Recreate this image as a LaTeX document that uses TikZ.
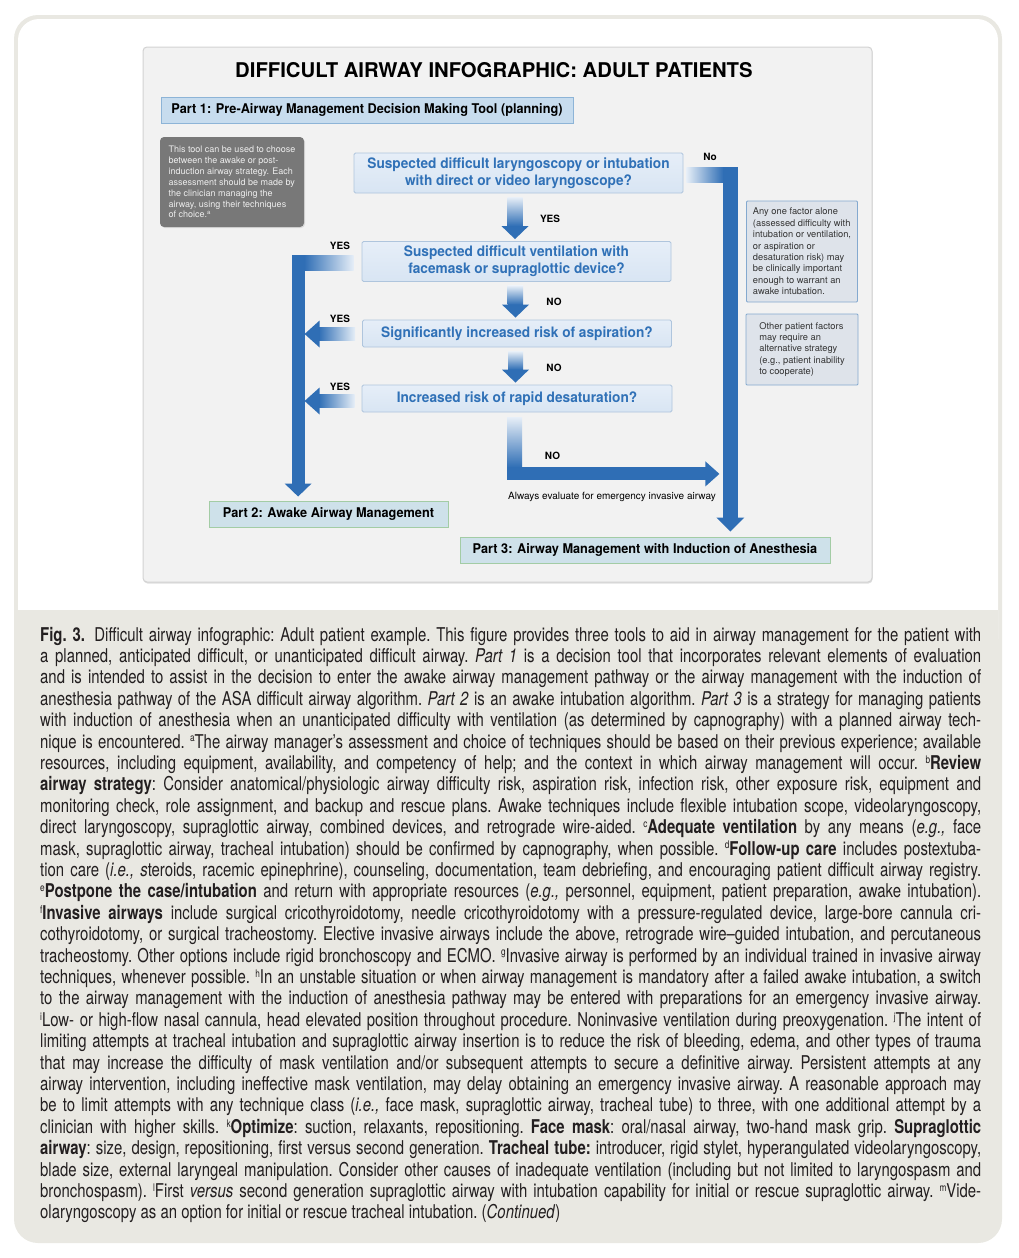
\documentclass[tikz,border=0pt]{standalone}
\usepackage{fontspec}
\usepackage{graphicx}
\setmainfont{TeX Gyre Heros}
\newfontfamily\boxf{TeX Gyre Heros}[FakeStretch=0.95]
\newfontfamily\capf{TeX Gyre Heros}[FakeStretch=0.785]
\usetikzlibrary{calc,shadows}

\definecolor{capbg}{HTML}{E9E8E2}
\definecolor{panelbg}{HTML}{F2F2F2}
\definecolor{panelln}{HTML}{D2D2D2}
\definecolor{ablue}{HTML}{2F6EB5}
\definecolor{alight}{HTML}{E6EEF7}
\definecolor{qfill}{HTML}{D8E5F3}
\definecolor{qfilltop}{HTML}{E6EEF8}
\definecolor{qline}{HTML}{AFC5DD}
\definecolor{qtext}{HTML}{3071B7}
\definecolor{p1fill}{HTML}{C7DCEE}
\definecolor{p1line}{HTML}{8DB4D7}
\definecolor{pfill}{HTML}{CEE1EA}
\definecolor{pline}{HTML}{A3CCA5}
\definecolor{notefill}{HTML}{787878}
\definecolor{infofill}{HTML}{DEE3EA}
\definecolor{infoline}{HTML}{84A9CF}
\definecolor{captext}{HTML}{231F20}

\newlength\capw \setlength\capw{941pt}
\newsavebox\capbox
\newcommand\sups[1]{\raisebox{0.62ex}{\fontsize{10.5}{10.5}\selectfont #1}}
\newcommand\capline[1]{\noindent\sbox\capbox{#1}%
  \ifdim\wd\capbox>\capw\resizebox{\capw}{\height}{\usebox\capbox}%
  \else\makebox[\capw][s]{#1}\fi\par}
\newcommand\caplast[1]{\noindent\makebox[\capw][l]{#1}\par}

\newcommand\dnarrow[2]{%
  \shade[top color=alight, bottom color=ablue] ($(#1)+(-7.5,0)$) rectangle ($(#2)+(7.5,-13)$);
  \fill[ablue] ($(#2)+(-13.5,-13)$) -- (#2) -- ($(#2)+(13.5,-13)$) -- cycle;}
\newcommand\lfarrow[2]{%
  \shade[left color=ablue, right color=alight] ($(#2)+(14,-6.5)$) rectangle ($(#1)+(0,6.5)$);
  \fill[ablue] (#2) -- ($(#2)+(15,-13.5)$) -- ($(#2)+(15,13.5)$) -- cycle;}

\begin{document}
\begin{tikzpicture}[x=1pt, y=-1pt,
  qbox/.style={draw=qline, line width=0.8pt, top color=qfilltop, bottom color=qfill,
    rounded corners=1.5pt, inner sep=0pt, align=center,
    font=\boxf\bfseries\fontsize{14.4}{17}\selectfont, text=qtext},
  partbox/.style={draw=pline, line width=1pt, fill=pfill, inner sep=0pt,
    font=\boxf\bfseries\fontsize{13.4}{16}\selectfont, text=black},
  infobox/.style={draw=infoline, line width=0.9pt, fill=infofill, rounded corners=1pt,
    inner sep=0pt, align=left, font=\fontsize{9.3}{11.4}\selectfont, text=black!80},
  notebox/.style={fill=notefill, rounded corners=4pt, inner sep=0pt, align=left,
    text=white!93!black, font=\fontsize{9}{10.9}\selectfont,
    drop shadow={opacity=0.2, shadow xshift=1pt, shadow yshift=-1pt}},
  lbl/.style={font=\bfseries\fontsize{10}{12}\selectfont, inner sep=0pt}]

\useasboundingbox (0,0) rectangle (1018,1258);
\fill[white] (0,0) rectangle (1018,1258);

% outer frame and caption band
\fill[capbg, rounded corners=24pt] (14,15) rectangle (1002,1243);
\fill[white, rounded corners=21pt] (18,19) rectangle (998,660);
\fill[capbg] (18,610) rectangle (998,662);

% infographic panel
\path[fill=panelbg, draw=panelln, line width=1pt, rounded corners=4pt,
  drop shadow={opacity=0.25, shadow xshift=0.5pt, shadow yshift=-1.5pt}] (143,47) rectangle (872,582);

\node[font=\bfseries\fontsize{20.3}{23}\selectfont, inner sep=0pt] (title) at (494,70)
  {DIFFICULT AIRWAY INFOGRAPHIC: ADULT PATIENTS};

\node[partbox, draw=p1line, fill=p1fill, minimum width=412pt, minimum height=26pt] (part1) at (367,110)
  {Part 1: Pre-Airway Management Decision Making Tool (planning)};

\node[notebox, minimum width=144pt, minimum height=90pt] (note) at (232,182)
  {This tool can be used to choose\\between the awake or post-\\induction airway strategy. Each\\assessment should be made by\\the clinician managing the\\airway, using their techniques\\of choice.\textsuperscript{a}};

\node[qbox, minimum width=329pt, minimum height=40pt] (q1) at (518.5,173)
  {Suspected difficult laryngoscopy or intubation\\with direct or video laryngoscope?};
\node[qbox, minimum width=309pt, minimum height=40pt] (q2) at (516.5,261.5)
  {Suspected difficult ventilation with\\facemask or supraglottic device?};
\node[qbox, minimum width=309pt, minimum height=27pt] (q3) at (517,333.5)
  {Significantly increased risk of aspiration?};
\node[qbox, minimum width=310pt, minimum height=27pt] (q4) at (517,398.5)
  {Increased risk of rapid desaturation?};

\node[infobox, minimum width=111pt, minimum height=101pt] (info1) at (802,251.5)
  {Any one factor alone\\(assessed difficulty with\\intubation or ventilation,\\or aspiration or\\desaturation risk) may\\be clinically important\\enough to warrant an\\awake intubation.};
\node[infobox, minimum width=112pt, minimum height=71pt] (info2) at (802,349.5)
  {Other patient factors\\may require an\\alternative strategy\\(e.g., patient inability\\to cooperate)};

\node[partbox, minimum width=239pt, minimum height=26pt] (part2) at (328.5,514)
  {Part 2: Awake Airway Management};
\node[partbox, minimum width=370pt, minimum height=26pt] (part3) at (645,550)
  {Part 3: Airway Management with Induction of Anesthesia};

% down arrows between questions
\coordinate (d1s) at ($(q1.south -| q2.north)+(-1.5,4)$);
\coordinate (d1t) at ($(q2.north)+(-1.5,-2)$);
\dnarrow{d1s}{d1t}
\coordinate (d2s) at ($(q2.south)+(-1.5,4)$);
\coordinate (d2t) at ($(q3.north)+(-1.5,-2)$);
\dnarrow{d2s}{d2t}
\coordinate (d3s) at ($(q3.south)+(-1.5,4)$);
\coordinate (d3t) at ($(q4.north)+(-1.5,-2)$);
\dnarrow{d3s}{d3t}

% left (YES) path to Part 2
\coordinate (lc) at ($(q2.west)+(-63.5,1)$);
\coordinate (lt) at ($(lc |- part2.north)+(0,-4)$);
\shade[left color=ablue, right color=alight] ($(lc)+(6,-7.5)$) rectangle ($(lc -| q2.west)+(-8,7.5)$);
\fill[ablue] ($(lc)+(-6.5,-7.5)$) rectangle ($(lt)+(6.5,-13)$);
\fill[ablue] (lt) -- ($(lt)+(-13.5,-13)$) -- ($(lt)+(13.5,-13)$) -- cycle;

\coordinate (y3s) at ($(q3.west)+(-7,0.5)$);
\coordinate (y3t) at ($(q3.west -| lc)+(6.5,0.5)$);
\lfarrow{y3s}{y3t}
\coordinate (y4s) at ($(q4.west)+(-7,2.5)$);
\coordinate (y4t) at ($(q4.west -| lc)+(6.5,2.5)$);
\lfarrow{y4s}{y4t}

% right (No) path to Part 3
\coordinate (rc) at ($(q1.east)+(47,1.5)$);
\coordinate (rt) at ($(rc |- part3.north)+(0,-5)$);
\shade[left color=alight, right color=ablue] ($(q1.east)+(3,-6)$) rectangle ($(rc)+(-7,7.5)$);
\fill[ablue] ($(rc)+(-7.5,-7.5)$) rectangle ($(rt)+(7.5,-14)$);
\fill[ablue] (rt) -- ($(rt)+(-14,-14)$) -- ($(rt)+(14,-14)$) -- cycle;

% NO path from last question
\coordinate (nc) at ($(q4.south)+(-2.5,61.5)$);
\coordinate (nt) at ($(nc -| rc)+(-11,0)$);
\shade[top color=alight, bottom color=ablue] ($(q4.south)+(-10,5)$) rectangle ($(nc)+(7.5,-6.5)$);
\fill[ablue] ($(nc)+(-7.5,-6.5)$) rectangle ($(nt)+(-13,6.5)$);
\fill[ablue] (nt) -- ($(nt)+(-14,-12.5)$) -- ($(nt)+(-14,12.5)$) -- cycle;

% labels
\node[lbl] (yes1) at (550,219) {YES};
\node[lbl] (no2) at (554,302) {NO};
\node[lbl] (no3) at (554,368) {NO};
\node[lbl] (yes2) at (340,246) {YES};
\node[lbl] (yes3) at (340,318.5) {YES};
\node[lbl] (yes4) at (340,387) {YES};
\node[lbl] (nolbl) at (710,157) {No};
\node[lbl] (no4) at (552.5,456) {NO};
\node[font=\fontsize{10}{12}\selectfont, inner sep=0pt] (always) at (612,497)
  {Always evaluate for emergency invasive airway};

% caption
\node[anchor=base west, inner sep=0pt, text=captext] (caption) at (40,641) {\parbox[t]{\capw}{%
\capf\fontsize{19}{21.4}\selectfont\frenchspacing\setlength\lineskiplimit{-30pt}%
\capline{\textbf{Fig. 3.}\enspace Difficult airway infographic: Adult patient example. This figure provides three tools to aid in airway management for the patient with}
\capline{a planned, anticipated difficult, or unanticipated difficult airway. \textit{Part 1} is a decision tool that incorporates relevant elements of evaluation}
\capline{and is intended to assist in the decision to enter the awake airway management pathway or the airway management with the induction of}
\capline{anesthesia pathway of the ASA difficult airway algorithm. \textit{Part 2} is an awake intubation algorithm. \textit{Part 3} is a strategy for managing patients}
\capline{with induction of anesthesia when an unanticipated difficulty with ventilation (as determined by capnography) with a planned airway tech-}
\capline{nique is encountered. \sups{a}The airway manager’s assessment and choice of techniques should be based on their previous experience; available}
\capline{resources, including equipment, availability, and competency of help; and the context in which airway management will occur. \sups{b}\textbf{Review}}
\capline{\textbf{airway strategy}: Consider anatomical/physiologic airway difficulty risk, aspiration risk, infection risk, other exposure risk, equipment and}
\capline{monitoring check, role assignment, and backup and rescue plans. Awake techniques include flexible intubation scope, videolaryngoscopy,}
\capline{direct laryngoscopy, supraglottic airway, combined devices, and retrograde wire-aided. \sups{c}\textbf{Adequate ventilation} by any means (\textit{e.g.,} face}
\capline{mask, supraglottic airway, tracheal intubation) should be confirmed by capnography, when possible. \sups{d}\textbf{Follow-up care} includes postextuba-}
\capline{tion care (\textit{i.e., s}teroids, racemic epinephrine), counseling, documentation, team debriefing, and encouraging patient difficult airway registry.}
\capline{\sups{e}\textbf{Postpone the case/intubation} and return with appropriate resources (\textit{e.g.,} personnel, equipment, patient preparation, awake intubation).}
\capline{\sups{f}\textbf{Invasive airways} include surgical cricothyroidotomy, needle cricothyroidotomy with a pressure-regulated device, large-bore cannula cri-}
\capline{cothyroidotomy, or surgical tracheostomy. Elective invasive airways include the above, retrograde wire–guided intubation, and percutaneous}
\capline{tracheostomy. Other options include rigid bronchoscopy and ECMO. \sups{g}Invasive airway is performed by an individual trained in invasive airway}
\capline{techniques, whenever possible. \sups{h}In an unstable situation or when airway management is mandatory after a failed awake intubation, a switch}
\capline{to the airway management with the induction of anesthesia pathway may be entered with preparations for an emergency invasive airway.}
\capline{\sups{i}Low- or high-flow nasal cannula, head elevated position throughout procedure. Noninvasive ventilation during preoxygenation. \sups{j}The intent of}
\capline{limiting attempts at tracheal intubation and supraglottic airway insertion is to reduce the risk of bleeding, edema, and other types of trauma}
\capline{that may increase the difficulty of mask ventilation and/or subsequent attempts to secure a definitive airway. Persistent attempts at any}
\capline{airway intervention, including ineffective mask ventilation, may delay obtaining an emergency invasive airway. A reasonable approach may}
\capline{be to limit attempts with any technique class (\textit{i.e.,} face mask, supraglottic airway, tracheal tube) to three, with one additional attempt by a}
\capline{clinician with higher skills. \sups{k}\textbf{Optimize}: suction, relaxants, repositioning. \textbf{Face mask}: oral/nasal airway, two-hand mask grip. \textbf{Supraglottic}}
\capline{\textbf{airway}: size, design, repositioning, first versus second generation. \textbf{Tracheal tube:} introducer, rigid stylet, hyperangulated videolaryngoscopy,}
\capline{blade size, external laryngeal manipulation. Consider other causes of inadequate ventilation (including but not limited to laryngospasm and}
\capline{bronchospasm). \sups{l}First \textit{versus} second generation supraglottic airway with intubation capability for initial or rescue supraglottic airway. \sups{m}Vide-}
\caplast{olaryngoscopy as an option for initial or rescue tracheal intubation. (\textit{Continued})}
}};
\end{tikzpicture}
\end{document}
